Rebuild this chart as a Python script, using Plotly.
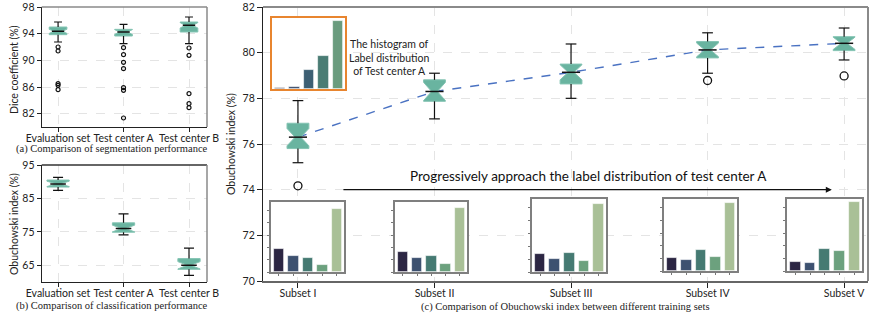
import plotly.graph_objects as go

W, H = 870, 316

# ---------------- data ----------------
cats_ab = ["Evaluation set", "Test center A", "Test center B"]

dice_lower = [92.75, 92.5, 92.5]
dice_q1 = [93.85, 93.65, 94.25]
dice_median = [94.35, 94.25, 95.25]
dice_q3 = [95.0, 94.65, 95.75]
dice_upper = [95.75, 95.4, 96.5]
dice_notch = [0.3, 0.35, 0.4]
dice_outliers = [
    [92.0, 91.4, 86.5, 86.25, 85.6],
    [91.9, 90.85, 89.7, 88.75, 85.9, 85.5, 81.35],
    [91.85, 90.75, 85.0, 83.5, 82.9],
]

cls_lower = [87.4, 74.1, 62.0]
cls_q1 = [88.4, 74.9, 63.8]
cls_median = [89.35, 76.0, 65.0]
cls_q3 = [90.5, 77.7, 67.0]
cls_upper = [91.3, 80.35, 70.15]
cls_notch = [0.8, 1.0, 1.1]

subsets = ["Subset I", "Subset II", "Subset III", "Subset IV", "Subset V"]
sub_lower = [75.18, 77.1, 78.0, 79.1, 79.68]
sub_q1 = [75.8, 77.87, 78.63, 79.77, 80.09]
sub_median = [76.3, 78.3, 79.14, 80.12, 80.41]
sub_q3 = [76.91, 78.81, 79.5, 80.49, 80.7]
sub_upper = [77.9, 79.1, 80.38, 80.87, 81.08]
sub_notch = [0.38, 0.4, 0.33, 0.3, 0.27]
sub_outliers = [[74.17], [], [], [78.78], [78.98]]

label_bins = [0, 1, 2, 3, 4]
testA_dist = [0.6, 1.4, 15.4, 26.2, 54.2]
subset_dist = [
    [19.0, 12.7, 11.3, 5.5, 51.0],
    [16.2, 11.3, 13.2, 6.6, 52.0],
    [13.9, 10.2, 15.0, 8.9, 53.1],
    [10.2, 8.7, 16.3, 11.3, 54.1],
    [7.1, 6.0, 17.1, 16.0, 54.4],
]

# ---------------- style ----------------
TEAL = "#69b4a0"
TEAL_EDGE = "#84c4b3"
SANS = "Lato, Open Sans, sans-serif"
SERIF = "Liberation Serif, Times New Roman, serif"
GRID = "#e4e4e4"
testA_colors = ["#2a2a40", "#3d4f6b", "#3d5f73", "#4a7c74", "#6a9c7e"]
subset_colors = ["#2c2643", "#3d5170", "#457a72", "#6ca17e", "#a9c097"]


def fx(p):
    return p / W


def fy(p):
    return 1 - p / H


fig = go.Figure()


def add_boxes(xs, lo, q1, med, q3, hi, notch, width, nw, xa, ya, capf, medf):
    fig.add_trace(go.Box(
        x=xs, q1=q1, median=med, q3=q3, lowerfence=q1, upperfence=q3,
        notched=True, notchspan=notch, notchwidth=nw, width=width,
        whiskerwidth=0, fillcolor=TEAL, line=dict(color=TEAL_EDGE, width=1),
        boxpoints=False, xaxis=xa, yaxis=ya, showlegend=False, hoverinfo="skip"))
    wx, wy, mx, my = [], [], [], []
    for x, a, b, m, c, d in zip(xs, lo, q1, med, q3, hi):
        cw = width * capf / 2
        wx += [x, x, None, x, x, None, x - cw, x + cw, None, x - cw, x + cw, None]
        wy += [a, b, None, c, d, None, a, a, None, d, d, None]
        mw = width * medf / 2
        mx += [x - mw, x + mw, None]
        my += [m, m, None]
    fig.add_trace(go.Scatter(x=wx, y=wy, mode="lines", line=dict(color="#111", width=1.2),
                             xaxis=xa, yaxis=ya, showlegend=False, hoverinfo="skip"))
    fig.add_trace(go.Scatter(x=mx, y=my, mode="lines", line=dict(color="#111", width=1.5),
                             xaxis=xa, yaxis=ya, showlegend=False, hoverinfo="skip"))


def add_outliers(xs, outs, xa, ya, size, lw):
    ox, oy = [], []
    for x, o in zip(xs, outs):
        ox += [x] * len(o)
        oy += o
    fig.add_trace(go.Scatter(x=ox, y=oy, mode="markers",
                             marker=dict(symbol="circle-open", size=size, color="#111",
                                         line=dict(width=lw, color="#111")),
                             xaxis=xa, yaxis=ya, showlegend=False, hoverinfo="skip"))


xs_ab = list(range(len(cats_ab)))
xs_c = list(range(len(subsets)))

# (a)
add_boxes(xs_ab, dice_lower, dice_q1, dice_median, dice_q3, dice_upper, dice_notch,
          0.27, 0.3, "x", "y", 0.45, 0.7)
add_outliers(xs_ab, dice_outliers, "x", "y", 4, 1.2)
# (b)
add_boxes(xs_ab, cls_lower, cls_q1, cls_median, cls_q3, cls_upper, cls_notch,
          0.34, 0.42, "x2", "y2", 0.45, 0.7)
# (c) trend line on base axes, boxes on overlay
fig.add_trace(go.Scatter(x=xs_c, y=sub_median, mode="lines",
                         line=dict(color="#4a72c2", width=1.4, dash="dash"),
                         xaxis="x3", yaxis="y3", showlegend=False, hoverinfo="skip"))
add_boxes(xs_c, sub_lower, sub_q1, sub_median, sub_q3, sub_upper, sub_notch,
          0.16, 0.37, "x3", "y10", 0.49, 0.83)
add_outliers(xs_c, sub_outliers, "x3", "y10", 8, 1.3)

# insets
fig.add_trace(go.Bar(x=label_bins, y=testA_dist, width=0.72,
                     marker=dict(color=testA_colors, line=dict(color="rgba(255,255,255,0.7)", width=0.8)),
                     xaxis="x4", yaxis="y4", showlegend=False, hoverinfo="skip"))
for i, dist in enumerate(subset_dist):
    fig.add_trace(go.Bar(x=label_bins, y=dist, width=0.73,
                         marker=dict(color=subset_colors, line=dict(color="rgba(255,255,255,0.7)", width=0.8)),
                         xaxis="x%d" % (5 + i), yaxis="y%d" % (5 + i),
                         showlegend=False, hoverinfo="skip"))

tickfont = dict(family=SANS, size=10.5, color="#222")
xtickfont = dict(family=SANS, size=10.5, color="#222")

common = dict(automargin=False, zeroline=False)

layout = dict(
    width=W, height=H, margin=dict(l=0, r=0, t=0, b=0, autoexpand=False),
    paper_bgcolor="white", plot_bgcolor="white", showlegend=False, bargap=0,
    xaxis=dict(domain=[fx(41.7), fx(207)], range=[-0.25, 2.275], tickvals=xs_ab, ticktext=cats_ab,
               ticks="outside", ticklen=4, tickcolor="#222", showline=True, linecolor="#222",
               linewidth=1.2, showgrid=True, gridcolor=GRID, griddash="dash",
               tickfont=xtickfont, tickangle=0, anchor="y", ticklabelstandoff=-3, **common),
    yaxis=dict(domain=[fy(127), fy(7)], range=[80, 98], tickvals=[82, 86, 90, 94, 98],
               ticks="outside", ticklen=4, tickcolor="#222", showline=True, linecolor="#222",
               linewidth=1.2, showgrid=True, gridcolor=GRID, griddash="dash",
               tickfont=tickfont, anchor="x", **common),
    xaxis2=dict(domain=[fx(41.7), fx(207)], range=[-0.25, 2.275], tickvals=xs_ab, ticktext=cats_ab,
                ticks="outside", ticklen=4, tickcolor="#222", showline=True, linecolor="#222",
                linewidth=1.2, showgrid=True, gridcolor=GRID, griddash="dash",
                tickfont=xtickfont, tickangle=0, anchor="y2", ticklabelstandoff=-3, **common),
    yaxis2=dict(domain=[fy(282), fy(165)], range=[60, 95], tickvals=[65, 75, 85, 95],
                ticks="outside", ticklen=4, tickcolor="#222", showline=True, linecolor="#222",
                linewidth=1.2, showgrid=True, gridcolor=GRID, griddash="dash",
                tickfont=tickfont, anchor="x2", **common),
    xaxis3=dict(domain=[fx(263), fx(868)], range=[-0.256, 4.175], tickvals=xs_c, ticktext=subsets,
                ticks="outside", ticklen=5, tickcolor="#222", showline=True, linecolor="#666",
                linewidth=2, showgrid=True, gridcolor=GRID, griddash="dash",
                tickfont=tickfont, tickangle=0, anchor="y3", ticklabelstandoff=-4, **common),
    yaxis3=dict(domain=[fy(281), fy(7)], range=[70, 82], dtick=2,
                ticks="outside", ticklen=5, tickcolor="#222", showline=True, linecolor="#222",
                linewidth=1.3, showgrid=True, gridcolor=GRID, griddash="dash",
                tickfont=tickfont, anchor="x3", **common),
    yaxis10=dict(range=[70, 82], overlaying="y3", anchor="x3", showgrid=False, showline=False,
                 showticklabels=False, ticks="", **common),
)

inset_boxes = [
    (272, 345, 18, 89),
    (271, 344, 202, 272),
    (395, 467, 202, 272),
    (532, 606, 199, 272),
    (664, 737, 199, 271),
    (787, 862, 199, 271),
]
for k, (x0, x1, y0, y1) in enumerate(inset_boxes):
    n = 4 + k
    orange = k == 0
    lc = "#e8852f" if orange else "#7f7f7f"
    layout["xaxis%d" % n] = dict(domain=[fx(x0), fx(x1)], range=[-0.55, 4.5], anchor="y%d" % n,
                                 showline=True, mirror=True, linecolor=lc, linewidth=1.5 if orange else 2,
                                 showgrid=False, showticklabels=False,
                                 ticks="" if orange else "outside", ticklen=2, tickcolor="#777",
                                 tickvals=label_bins, **common)
    layout["yaxis%d" % n] = dict(domain=[fy(y1), fy(y0)], range=[0, 57], anchor="x%d" % n,
                                 showline=True, mirror=True, linecolor=lc, linewidth=1.5 if orange else 2,
                                 showgrid=False, showticklabels=False,
                                 ticks="" if orange else "outside", ticklen=2, tickcolor="#777",
                                 dtick=10, **common)

fig.update_layout(**layout)

# frame lines (top / right)
for xa, ya, topc in [("x", "y", "#8a8a8a"), ("x2", "y2", "#333"), ("x3", "y3", "#8a8a8a")]:
    fig.add_shape(type="line", xref=xa + " domain", yref=ya + " domain", x0=0, x1=1, y0=1, y1=1,
                  line=dict(color=topc, width=2 if xa == "x3" else 1.5))
    fig.add_shape(type="line", xref=xa + " domain", yref=ya + " domain", x0=1, x1=1, y0=0, y1=1,
                  line=dict(color="#8a8a8a", width=2 if xa == "x3" else 1.5))


def txt(text, x, y, size, family=SANS, angle=0, color="#222", xref="paper", yref="paper"):
    return dict(text=text, x=x, y=y, xref=xref, yref=yref, textangle=angle, showarrow=False,
                xanchor="center", yanchor="middle", font=dict(family=family, size=size, color=color))


ann = [
    txt("Dice coefficient (%)", fx(14), fy(70), 10.5, angle=-90),
    txt("Obuchowski index (%)", fx(14), fy(224), 10.5, angle=-90),
    txt("Obuchowski index (%)", fx(231), fy(144), 10.5, angle=-90),
    txt("(a) Comparison of segmentation performance", fx(112), fy(149), 10.5, family=SERIF),
    txt("(b) Comparison of classification performance", fx(112), fy(305.5), 10.5, family=SERIF),
    txt("(c) Comparison of Obuchowski index between different training sets", fx(565), fy(307),
        10.5, family=SERIF),
    txt("The histogram of<br>Label distribution<br>of Test center A", fx(389), fy(58), 10.5),
    txt("Progressively approach the label distribution of test center A", 2.13, 74.62, 13.5,
        color="#111", xref="x3", yref="y3"),
    dict(text="", x=3.91, y=74.0, xref="x3", yref="y3", ax=0.322, ay=74.0,
         axref="x3", ayref="y3", showarrow=True, arrowhead=2, arrowsize=1,
         arrowwidth=1.2, arrowcolor="#111"),
]
fig.update_layout(annotations=ann)

fig.write_html("out.html", config={"displayModeBar": False},
               post_script="document.body.style.margin='0';document.body.style.overflow='hidden';")
